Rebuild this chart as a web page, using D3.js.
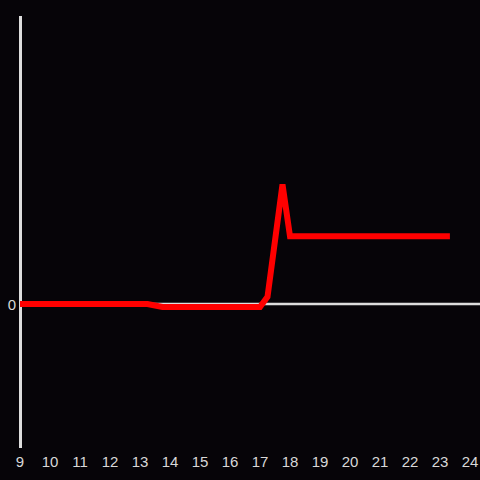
<!DOCTYPE html>
<html>
<head>
<meta charset="utf-8">
<script src="https://cdn.jsdelivr.net/npm/d3@7"></script>
<style>
  html, body { margin: 0; padding: 0; background: #060408; }
  svg { display: block; }
</style>
</head>
<body>
<div id="chart"></div>
<script>
// hours of day and values
const hours = [9, 13.25, 13.75, 17.0, 17.25, 17.75, 18.0, 23.33]
const values = [0, 0, -0.021, -0.021, 0.05, 0.83, 0.47, 0.47]
const xTicks = [9, 10, 11, 12, 13, 14, 15, 16, 17, 18, 19, 20, 21, 22, 23, 24]
const yTicks = [0]

const width = 480
const height = 480

const x = d3.scaleLinear().domain([9, 24]).range([20, 470])
const y = d3.scaleLinear().domain([-1, 2]).range([448, 16])

const svg = d3.select('#chart').append('svg')
  .attr('width', width)
  .attr('height', height)
  .style('background', '#060408')

// --- axes ---
svg.append('line')
  .attr('x1', 20.5).attr('x2', 20.5)
  .attr('y1', y.range()[1]).attr('y2', y.range()[0])
  .attr('stroke', '#dddddd')
  .attr('stroke-width', 3)

svg.append('line')
  .attr('x1', 20).attr('x2', width)
  .attr('y1', y(0)).attr('y2', y(0))
  .attr('stroke', '#dddddd')
  .attr('stroke-width', 2.5)

svg.append('g')
  .selectAll('text')
  .data(xTicks)
  .join('text')
    .attr('x', d => x(d))
    .attr('y', 467)
    .attr('text-anchor', 'middle')
    .attr('fill', '#d8d8d8')
    .style('font', '15px "Liberation Sans", Arial, sans-serif')
    .text(d => d)

svg.append('g')
  .selectAll('text')
  .data(yTicks)
  .join('text')
    .attr('x', 16)
    .attr('y', d => y(d) + 5.5)
    .attr('text-anchor', 'end')
    .attr('fill', '#d8d8d8')
    .style('font', '15px "Liberation Sans", Arial, sans-serif')
    .text(d => d)

// --- series ---
const line = d3.line()
  .x((d, i) => x(hours[i]))
  .y(d => y(d))

svg.append('path')
  .datum(values)
  .attr('d', line)
  .attr('fill', 'none')
  .attr('stroke', '#ff0000')
  .attr('stroke-width', 6)
  .attr('stroke-linejoin', 'miter')
</script>
</body>
</html>
